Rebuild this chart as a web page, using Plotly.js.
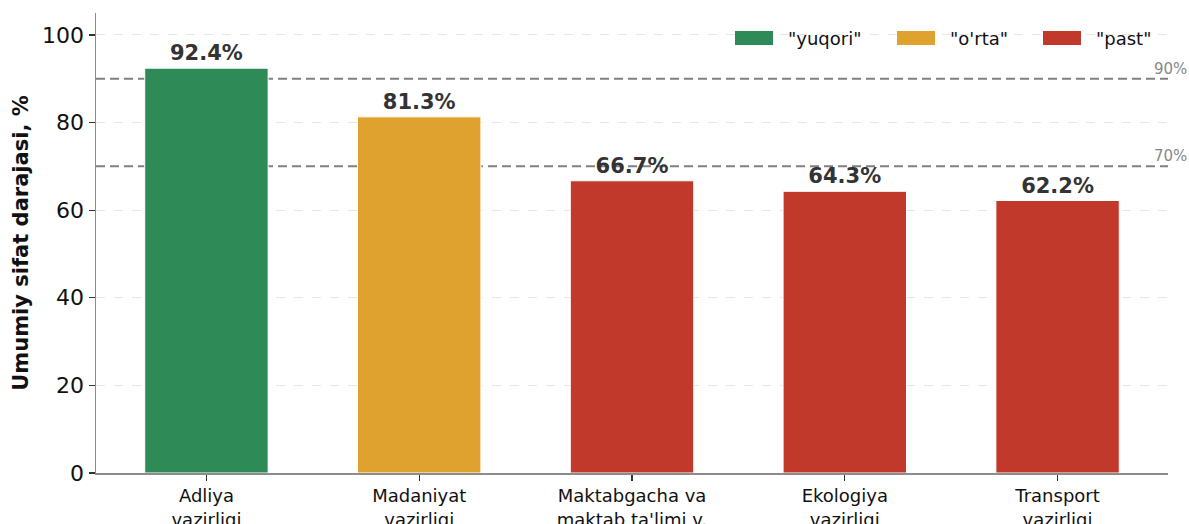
<!DOCTYPE html>
<html>
<head>
<meta charset="utf-8">
<script src="https://cdn.plot.ly/plotly-3.0.1.min.js"></script>
<style>html,body{margin:0;padding:0;background:#fff;}#chart{width:1189px;height:524px;}</style>
</head>
<body>
<div id="chart"></div>
<script>
// ---- data ----
const categories = ["Adliya<br>vazirligi", "Madaniyat<br>vazirligi", "Maktabgacha va<br>maktab ta'limi v.", "Ekologiya<br>vazirligi", "Transport<br>vazirligi"];
const values = [92.4, 81.3, 66.7, 64.3, 62.2];
const levels = ["yuqori", "o'rta", "past", "past", "past"];
const levelNames = ["yuqori", "o'rta", "past"];
const levelLabels = ['"yuqori"', '"o\'rta"', '"past"'];
const thresholds = [90, 70];
const thresholdLabels = ["90%", "70%"];
const yTicks = [0, 20, 40, 60, 80, 100];

// ---- styles ----
const levelColors = {"yuqori": "#2e8b57", "o'rta": "#e0a22e", "past": "#c0392b"};
const font = "DejaVu Sans, Verdana, sans-serif";

const xIdx = categories.map((c, i) => i);
const traces = levelNames.map(lv => {
  const xs = [], ys = [], ts = [];
  values.forEach((v, i) => { if (levels[i] === lv) { xs.push(i); ys.push(v); ts.push(v.toFixed(1) + "%"); } });
  return {
    type: "bar", x: xs, y: ys, text: ts, name: lv,
    textposition: "outside", cliponaxis: false, constraintext: "none",
    textfont: {family: font, size: 21, color: "#333333", weight: "bold"},
    marker: {color: levelColors[lv], line: {color: "#ffffff", width: 1}},
    width: 0.58, hoverinfo: "skip", showlegend: false
  };
});

// plot area geometry (pixels)
const L = 96, R = 21, T = 13, B = 51, W = 1189, H = 524;
const pw = W - L - R, ph = H - T - B;
const px = v => (v - L) / pw;
const py = v => (H - B - v) / ph;

const shapes = [];
const annotations = [];
thresholds.forEach((t, i) => {
  shapes.push({type: "line", xref: "paper", x0: 0, x1: 1, yref: "y", y0: t, y1: t,
    line: {color: "#808080", width: 2, dash: "9px,5px"}, layer: "between"});
  annotations.push({xref: "paper", x: px(1152), xanchor: "left", yref: "y", y: t, yanchor: "bottom", yshift: -1,
    text: thresholdLabels[i], showarrow: false, font: {family: font, size: 15, color: "#888888"}});
});

// custom legend
const legendX = [735, 897, 1043];
levelNames.forEach((lv, i) => {
  shapes.push({type: "rect", xref: "paper", yref: "paper", x0: px(legendX[i]), x1: px(legendX[i] + 38),
    y0: py(45), y1: py(31), fillcolor: levelColors[lv], line: {width: 0}, layer: "above"});
  annotations.push({xref: "paper", yref: "paper", x: px(legendX[i] + 51), y: py(38), xanchor: "left", yanchor: "middle",
    text: levelLabels[i], showarrow: false, font: {family: font, size: 18, color: "#111111"}});
});

const layout = {
  width: W, height: H,
  margin: {l: L, r: R, t: T, b: B, pad: 0},
  paper_bgcolor: "#ffffff", plot_bgcolor: "#ffffff",
  barmode: "overlay",
  font: {family: font, color: "#111111"},
  xaxis: {
    range: [-0.519, 4.519], tickmode: "array", tickvals: xIdx, ticktext: categories,
    showgrid: false, zeroline: false, showline: true, linecolor: "#8c8c8c", linewidth: 1.5,
    ticks: "outside", ticklen: 6, tickwidth: 1.2, tickcolor: "#333333",
    tickfont: {family: font, size: 18, color: "#111111"}
  },
  yaxis: {
    range: [0, 105], tickmode: "array", tickvals: yTicks,
    showgrid: true, gridcolor: "#e6e6e6", griddash: "dash", gridwidth: 1,
    zeroline: false, showline: true, linecolor: "#8c8c8c", linewidth: 1.5,
    ticks: "outside", ticklen: 6, tickwidth: 1.2, tickcolor: "#333333",
    tickfont: {family: font, size: 22, color: "#111111"},
    title: {text: "Umumiy sifat darajasi, %", standoff: 7, font: {family: font, size: 21, color: "#111111", weight: "bold"}}
  },
  shapes: shapes, annotations: annotations,
  showlegend: false
};

Plotly.newPlot("chart", traces, layout, {displayModeBar: false, staticPlot: true});
</script>
</body>
</html>
